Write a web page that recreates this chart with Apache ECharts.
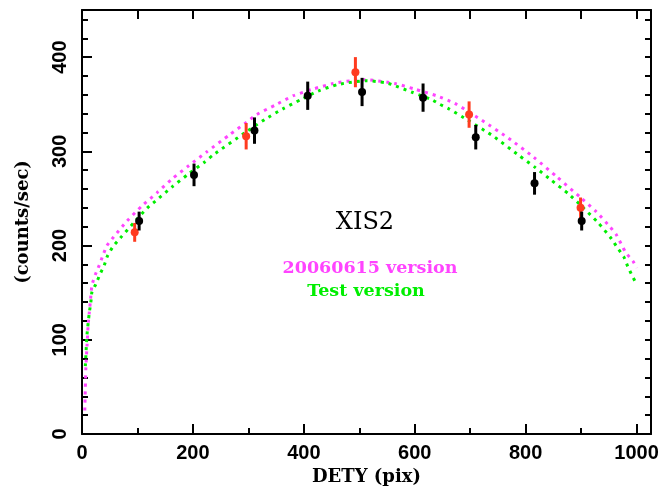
<!DOCTYPE html>
<html>
<head>
<meta charset="utf-8">
<script src="https://cdn.jsdelivr.net/npm/echarts@6/dist/echarts.min.js"></script>
<style>
  html, body { margin: 0; padding: 0; background: #fff; }
  #chart { width: 664px; height: 491px; }
</style>
</head>
<body>
<div id="chart"></div>
<script>
// Count rate vs DETY for XIS2, with two model versions

// Measured points: [DETY, rate, error]
const redPoints = [
  [95, 214, 10],
  [296, 316, 14],
  [493, 384, 16],
  [698, 339, 14],
  [899, 240, 11]
];
const blackPoints = [
  [103, 226, 10],
  [202, 275, 12],
  [311, 322, 14],
  [407, 359, 15],
  [505, 363, 15],
  [615, 357, 15],
  [710, 315, 13],
  [816, 266, 12],
  [901, 226, 10]
];

// Model curves: [DETY, rate]
const curve20060615 = [
  [5, 25], [6, 48], [7, 71], [9, 93], [11, 115], [13, 128], [15, 140],
  [18, 158], [24, 169], [31, 179], [38, 190], [45, 200], [57, 209],
  [81, 226], [108, 242], [135, 256], [163, 271], [193, 285], [224, 299],
  [267, 318], [297, 331], [315, 339], [348, 349], [381, 359], [416, 366],
  [453, 372], [486, 375], [511, 376], [564, 372], [600, 366], [639, 359],
  [672, 351], [705, 339], [721, 333], [769, 314], [814, 294], [856, 273],
  [899, 251], [927, 236], [952, 220], [964, 211], [980, 193], [994, 183],
  [1000, 176]
];
const curveTest = [
  [6, 72], [9, 105], [13, 128], [16, 140], [18, 151], [25, 159], [32, 169],
  [40, 179], [46, 189], [56, 199], [69, 208], [93, 224], [118, 240],
  [132, 247], [162, 262], [192, 276], [222, 289], [236, 296], [297, 321],
  [330, 334], [362, 345], [395, 355], [426, 364], [462, 371], [513, 375],
  [546, 373], [558, 371], [594, 363], [630, 355], [645, 350], [662, 345],
  [696, 333], [726, 322], [742, 316], [787, 296], [817, 283], [847, 269],
  [877, 255], [904, 240], [931, 224], [955, 207], [965, 198], [977, 188],
  [984, 178], [992, 168], [1000, 159]
];

const xTicksMajor = 200, xTicksMinor = 100;
const yTicksMajor = 100, yTicksMinor = 20;
const xMax = 1026, yMax = 450;

const chart = echarts.init(document.getElementById('chart'), null, { renderer: 'canvas' });

const black = '#000';
const lineW = 2;
const labelFont = { fontFamily: 'Liberation Sans', fontWeight: 'bold', fontSize: 20, color: black };
const nameFont = { fontFamily: 'DejaVu Serif', fontWeight: 'bold', fontSize: 18, color: black };

function baseAxis(opts) {
  return Object.assign({
    type: 'value', gridIndex: 0,
    axisLine: { show: false, onZero: false, lineStyle: { color: black, width: lineW } },
    axisTick: { show: true, inside: true, length: 6, lineStyle: { color: black, width: lineW } },
    axisLabel: { show: false },
    splitLine: { show: false }
  }, opts);
}
const xAx = o => baseAxis(Object.assign({ min: 0, max: xMax }, o));
const yAx = o => baseAxis(Object.assign({ min: 0, max: yMax }, o));
const shownLine = { show: true, onZero: false, lineStyle: { color: black, width: lineW } };

function errorSeries(points, color) {
  return {
    type: 'custom',
    xAxisIndex: 0, yAxisIndex: 0,
    data: points,
    z: 5,
    renderItem: function (params, api) {
      const x = api.value(0), y = api.value(1), e = api.value(2);
      const top = api.coord([x, y + e]);
      const bot = api.coord([x, y - e]);
      const c = api.coord([x, y]);
      return {
        type: 'group',
        children: [
          { type: 'line', shape: { x1: top[0], y1: top[1], x2: bot[0], y2: bot[1] },
            style: { stroke: color, lineWidth: 3 } },
          { type: 'circle', shape: { cx: c[0], cy: c[1], r: 4 },
            style: { fill: color } }
        ]
      };
    }
  };
}

const option = {
  animation: false,
  backgroundColor: '#fff',
  grid: { left: 82, right: 13, top: 10, bottom: 57, containLabel: false },
  xAxis: [
    xAx({
      position: 'bottom', interval: xTicksMajor,
      axisLine: shownLine,
      axisTick: { show: true, inside: true, length: 10, lineStyle: { color: black, width: lineW } },
      axisLabel: Object.assign({ show: true, margin: 9,
        formatter: v => (v % xTicksMajor === 0 ? String(v) : '') }, labelFont),
      name: 'DETY (pix)', nameLocation: 'middle', nameGap: 21,
      nameTextStyle: nameFont
    }),
    xAx({ position: 'bottom', interval: xTicksMinor }),
    xAx({ position: 'top', interval: xTicksMinor, axisLine: shownLine,
      axisTick: { show: true, inside: true, length: 9, lineStyle: { color: black, width: lineW } } })
  ],
  yAxis: [
    yAx({
      position: 'left', interval: yTicksMajor,
      axisLine: shownLine,
      axisTick: { show: true, inside: true, length: 10, lineStyle: { color: black, width: lineW } },
      axisLabel: Object.assign({ show: true, margin: 12, rotate: 90,
        formatter: v => (v % yTicksMajor === 0 ? String(v) : '') }, labelFont),
      name: '(counts/sec)', nameLocation: 'middle', nameGap: 50,
      nameTextStyle: nameFont
    }),
    yAx({ position: 'left', interval: yTicksMinor }),
    yAx({ position: 'right', interval: yTicksMinor, axisLine: shownLine })
  ],
  graphic: [
    { type: 'text', x: 365, y: 223, z: 10,
      style: { text: 'XIS2', fill: black, font: 'normal 24px "DejaVu Serif"',
        textAlign: 'center', textVerticalAlign: 'middle' } },
    { type: 'text', x: 370, y: 268, z: 10,
      style: { text: '20060615 version', fill: '#ff44ff', font: 'bold 17.5px "DejaVu Serif"',
        textAlign: 'center', textVerticalAlign: 'middle' } },
    { type: 'text', x: 366, y: 291, z: 10,
      style: { text: 'Test version', fill: '#00ee00', font: 'bold 17.5px "DejaVu Serif"',
        textAlign: 'center', textVerticalAlign: 'middle' } }
  ],
  series: [
    {
      name: '20060615 version', type: 'line', xAxisIndex: 0, yAxisIndex: 0,
      data: curve20060615, symbol: 'none', smooth: 0.2, z: 3,
      lineStyle: { color: '#ff44ff', width: 3, type: [3, 5] }
    },
    {
      name: 'Test version', type: 'line', xAxisIndex: 0, yAxisIndex: 0,
      data: curveTest, symbol: 'none', smooth: 0.2, z: 3,
      lineStyle: { color: '#00ee00', width: 3, type: [3, 5] }
    },
    errorSeries(redPoints, '#ff3b1f'),
    errorSeries(blackPoints, '#000000')
  ]
};

chart.setOption(option);
</script>
</body>
</html>
